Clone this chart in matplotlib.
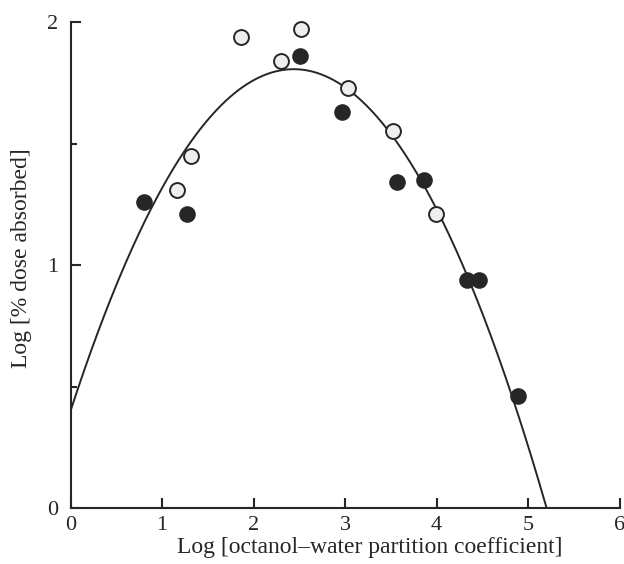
import numpy as np
import matplotlib
matplotlib.use('Agg')
import matplotlib.pyplot as plt
from matplotlib.ticker import MultipleLocator

plt.rcParams['font.family'] = ['Liberation Serif', 'DejaVu Serif']

# open circles
open_x = [1.86, 2.52, 2.30, 3.03, 3.52, 1.32, 1.16, 3.99]
open_y = [1.94, 1.97, 1.84, 1.73, 1.55, 1.45, 1.31, 1.21]

# filled circles
filled_x = [2.51, 2.97, 3.57, 3.86, 0.80, 1.27, 4.33, 4.46, 4.89]
filled_y = [1.86, 1.63, 1.34, 1.35, 1.26, 1.21, 0.94, 0.94, 0.46]

# parabolic fit: y = c0 + c1*x + c2*x^2
c0, c1, c2 = 0.40, 1.153, -0.2364

ink = '#262626'

fig = plt.figure(figsize=(6.24, 5.64), dpi=100)
ax = fig.add_axes([0.113, 0.099, 0.880, 0.862])

xs = np.linspace(0, 6, 400)
ax.plot(xs, c0 + c1 * xs + c2 * xs ** 2, color=ink, lw=1.4, zorder=2)

ax.scatter(open_x, open_y, s=115, facecolor='#eeeeee', edgecolor=ink,
           linewidth=1.4, zorder=3, clip_on=False)
ax.scatter(filled_x, filled_y, s=120, facecolor=ink, edgecolor=ink,
           linewidth=1.0, zorder=4, clip_on=False)

ax.set_xlim(0, 6)
ax.set_ylim(0, 2)
ax.xaxis.set_major_locator(MultipleLocator(1))
ax.yaxis.set_major_locator(MultipleLocator(1))
ax.yaxis.set_minor_locator(MultipleLocator(0.5))

for s in ['top', 'right']:
    ax.spines[s].set_visible(False)
for s in ['left', 'bottom']:
    ax.spines[s].set_linewidth(1.5)
    ax.spines[s].set_color(ink)

ax.tick_params(which='major', direction='in', length=7, width=1.5,
               colors=ink, labelsize=16, pad=6)
ax.tick_params(which='minor', direction='in', length=4, width=1.5, colors=ink)
ax.tick_params(axis='y', pad=9)

ax.set_xlabel('Log [octanol\u2013water partition coefficient]', fontsize=17,
              color=ink, labelpad=1)
ax.xaxis.set_label_coords(0.545, -0.06)
ax.set_ylabel('Log [% dose absorbed]', fontsize=17, color=ink, labelpad=10)
ax.yaxis.set_label_coords(-0.07, 0.515)

fig.savefig('out.png', dpi=100)
